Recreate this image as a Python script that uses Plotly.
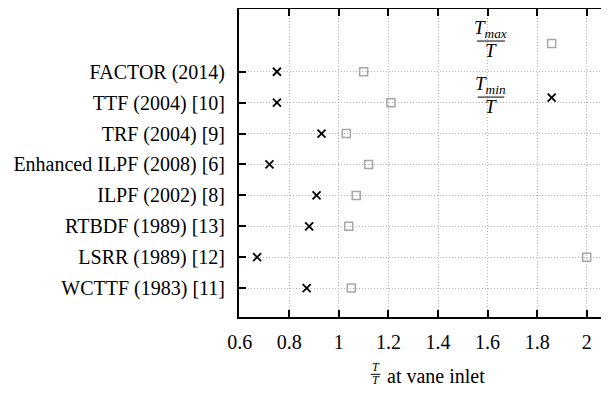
import plotly.graph_objects as go

# Cycles, top to bottom as listed on the y axis
cycles = [
    "FACTOR (2014)",
    "TTF (2004) [10]",
    "TRF (2004) [9]",
    "Enhanced ILPF (2008) [6]",
    "ILPF (2002) [8]",
    "RTBDF (1989) [13]",
    "LSRR (1989) [12]",
    "WCTTF (1983) [11]",
]
t_max_ratio = [1.10, 1.21, 1.03, 1.12, 1.07, 1.04, 2.00, 1.05]
t_min_ratio = [0.75, 0.75, 0.93, 0.72, 0.91, 0.88, 0.67, 0.87]
x_ticks = [0.6, 0.8, 1.0, 1.2, 1.4, 1.6, 1.8, 2.0]
x_tick_text = ["0.6", "0.8", "1", "1.2", "1.4", "1.6", "1.8", "2"]

rows = [len(cycles) - i for i in range(len(cycles))]

FONT = "Liberation Serif"
GRID = "#b4b4b4"
GREY = "#a6a6a6"
Y_RANGE = [0.065, 10.03]


def frac(x, y, x0, x1, num, den, size):
    """numerator / line / denominator as two annotations and a line shape"""
    anns = [
        dict(xref="paper", yref="paper", x=x, y=y, xanchor="center", yanchor="bottom", yshift=-2,
             text=num, showarrow=False, font=dict(family=FONT, size=size)),
        dict(xref="paper", yref="paper", x=x, y=y, xanchor="center", yanchor="top", yshift=3,
             text=den, showarrow=False, font=dict(family=FONT, size=size)),
    ]
    line = dict(type="line", xref="paper", yref="paper", x0=x0, x1=x1, y0=y, y1=y,
                line=dict(color="black", width=1))
    return anns, line


fig = go.Figure()

fig.add_trace(go.Scatter(
    x=t_max_ratio, y=rows, mode="markers", showlegend=False,
    marker=dict(symbol="square-open", size=8, color=GREY, line=dict(width=1.5, color=GREY)),
))
fig.add_trace(go.Scatter(
    x=t_min_ratio, y=rows, mode="markers", showlegend=False,
    marker=dict(symbol="x-thin-open", size=8, color="black", line=dict(width=1.8, color="black")),
))

# legend keys (drawn by hand: text left, symbol right)
fig.add_trace(go.Scatter(
    x=[0.845], y=[8.91], xaxis="x2", yaxis="y2", mode="markers", showlegend=False,
    marker=dict(symbol="square-open", size=8, color=GREY, line=dict(width=1.5, color=GREY)),
))
fig.add_trace(go.Scatter(
    x=[0.845], y=[7.16], xaxis="x2", yaxis="y2", mode="markers", showlegend=False,
    marker=dict(symbol="x-thin-open", size=8, color="black", line=dict(width=1.8, color="black")),
))

axis_common = dict(
    showline=True, linecolor="black", linewidth=2,
    ticks="inside", ticklen=7, tickwidth=2, tickcolor="black",
    showgrid=True, gridcolor=GRID, gridwidth=1, griddash="1px,2px",
    zeroline=False, tickfont=dict(family=FONT, size=20, color="black"),
)

a1, l1 = frac(0.681, 0.896, 0.643, 0.719, "<i>T<sub>max</sub></i>", "<i>T</i>", 19)
a2, l2 = frac(0.681, 0.714, 0.645, 0.717, "<i>T<sub>min</sub></i>", "<i>T</i>", 19)
a3, l3 = frac(0.369, -0.186, 0.356, 0.382, "<i>T</i>", "<i>T</i>", 12)

fig.update_layout(
    # page body adds an 8px margin, so the figure is 8px smaller than the window
    width=601, height=386,
    margin=dict(l=231, r=0, t=1, b=77),
    paper_bgcolor="white", plot_bgcolor="white",
    font=dict(family=FONT, color="black"),
    xaxis=dict(range=[0.597, 2.09], tickvals=x_ticks, ticktext=x_tick_text,
               mirror="ticks", ticklabelstandoff=6, **axis_common),
    yaxis=dict(range=Y_RANGE, tickvals=rows, ticktext=cycles,
               mirror=False, ticklabelstandoff=8, **axis_common),
    xaxis2=dict(overlaying="x", range=[0, 1], visible=False),
    yaxis2=dict(overlaying="y", side="right", range=Y_RANGE, tickvals=rows,
                showticklabels=False, showgrid=False, showline=False, zeroline=False,
                ticks="inside", ticklen=7, tickwidth=2, tickcolor="black"),
    shapes=[
        dict(type="rect", xref="paper", yref="paper", x0=0.462, x1=0.968, y0=0.631, y1=0.996,
             fillcolor="white", line=dict(width=0), layer="between"),
        l1, l2, l3,
    ],
    annotations=a1 + a2 + a3 + [
        dict(xref="paper", yref="paper", x=0.395, y=-0.192, xanchor="left", yanchor="middle",
             text="at vane inlet", showarrow=False, font=dict(family=FONT, size=20)),
    ],
)

fig.write_html("out.html")
